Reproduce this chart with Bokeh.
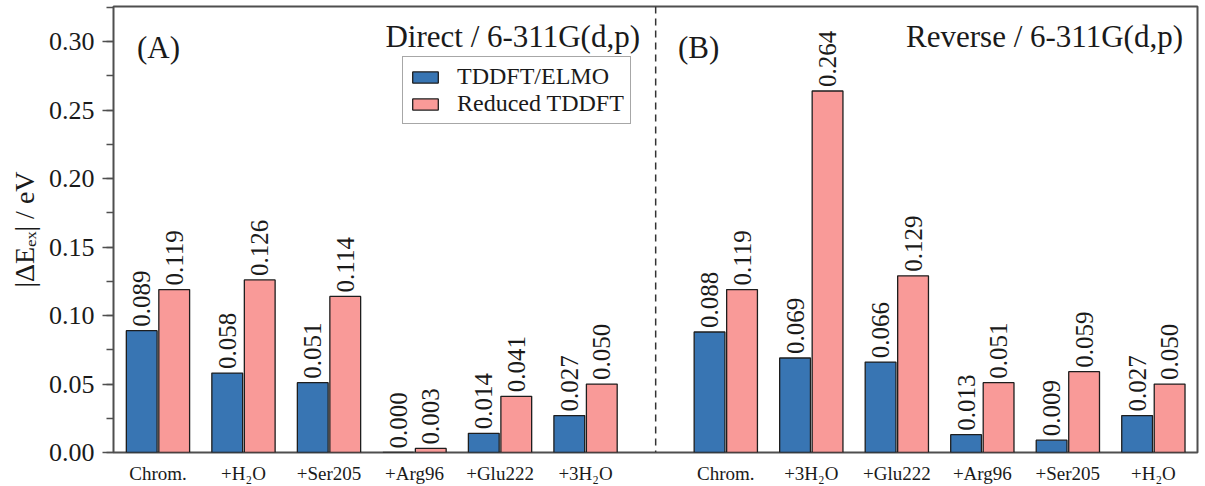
import math

from bokeh.plotting import figure
from bokeh.models import (ColumnDataSource, FixedTicker, SingleIntervalTicker, Span, Label,
                          LabelSet, Legend, LegendItem, Range1d, PrintfTickFormatter)
from bokeh.core.properties import value
from bokeh.embed import file_html
from bokeh.resources import INLINE

# Excitation-energy errors |ΔE_ex| (eV) for the two build-up orders
direct_systems = ["Chrom.", "+H₂O", "+Ser205", "+Arg96", "+Glu222", "+3H₂O"]
direct_elmo = [0.089, 0.058, 0.051, 0.000, 0.014, 0.027]
direct_reduced = [0.119, 0.126, 0.114, 0.003, 0.041, 0.050]

reverse_systems = ["Chrom.", "+3H₂O", "+Glu222", "+Arg96", "+Ser205", "+H₂O"]
reverse_elmo = [0.088, 0.069, 0.066, 0.013, 0.009, 0.027]
reverse_reduced = [0.119, 0.264, 0.129, 0.051, 0.059, 0.050]

series_names = ["TDDFT/ELMO", "Reduced TDDFT"]
panel_titles = ["Direct / 6-311G(d,p)", "Reverse / 6-311G(d,p)"]
panel_tags = ["(A)", "(B)"]
y_title = "|ΔEₑₓ| / eV"

# styling / layout
BLUE = "#3875b3"
PINK = "#f99a98"
EDGE = "#1e1e1e"
FRAME = "#4f4f4f"
INK = "#1a1a1a"
SERIF = "Liberation Serif"

reverse_start = 6.64   # x position of the first group in panel B
divider_x = 5.82       # dashed separator between the panels
half = 0.19            # offset of each bar from its group centre
bar_w = 0.36

centers = list(range(len(direct_systems))) + [reverse_start + j for j in range(len(reverse_systems))]
tick_names = direct_systems + reverse_systems
elmo = direct_elmo + reverse_elmo
reduced = direct_reduced + reverse_reduced

src_elmo = ColumnDataSource(dict(x=[c - half for c in centers], top=elmo,
                                 label=[f"{v:.3f}" for v in elmo]))
src_red = ColumnDataSource(dict(x=[c + half for c in centers], top=reduced,
                                label=[f"{v:.3f}" for v in reduced]))

p = figure(width=1205, height=486, output_backend="svg", toolbar_location=None,
           x_range=Range1d(-0.52, 12.156), y_range=Range1d(0, 0.3257),
           min_border_left=113, min_border_right=8, min_border_top=6, min_border_bottom=28)
p.xgrid.visible = False
p.ygrid.visible = False
p.outline_line_color = FRAME
p.outline_line_width = 2
p.background_fill_color = "white"
p.border_fill_color = "white"

r_elmo = p.vbar(x="x", top="top", width=bar_w, source=src_elmo,
                fill_color=BLUE, line_color=EDGE, line_width=1.3)
r_red = p.vbar(x="x", top="top", width=bar_w, source=src_red,
               fill_color=PINK, line_color=EDGE, line_width=1.3)

for src in (src_elmo, src_red):
    p.add_layout(LabelSet(x="x", y="top", text="label", source=src, angle=math.pi / 2,
                          text_align="left", text_baseline="middle", y_offset=4,
                          text_font=value(SERIF), text_font_size=value("25px"),
                          text_color=INK))

p.add_layout(Span(location=divider_x, dimension="height", line_color="#333333",
                  line_width=1.5, line_dash="7 5"))

# x axis: system names under each pair of bars
p.xaxis.ticker = FixedTicker(ticks=centers)
p.xaxis.major_label_overrides = {c: n for c, n in zip(centers, tick_names)}
p.xaxis.major_tick_line_color = None
p.xaxis.minor_tick_line_color = None
p.xaxis.axis_line_color = None
p.xaxis.major_label_standoff = 4
p.xaxis.major_label_text_font = SERIF
p.xaxis.major_label_text_font_size = "19px"
p.xaxis.major_label_text_color = INK

# y axis
p.yaxis.ticker = SingleIntervalTicker(interval=0.05, num_minor_ticks=2)
p.yaxis.formatter = PrintfTickFormatter(format="%.2f")
p.yaxis.axis_line_color = None
p.yaxis.major_tick_in = 0
p.yaxis.major_tick_out = 11
p.yaxis.minor_tick_in = 0
p.yaxis.minor_tick_out = 7
p.yaxis.major_tick_line_color = FRAME
p.yaxis.minor_tick_line_color = FRAME
p.yaxis.major_tick_line_width = 1.5
p.yaxis.minor_tick_line_width = 1.5
p.yaxis.major_label_standoff = 8
p.yaxis.major_label_text_font = SERIF
p.yaxis.major_label_text_font_size = "26px"
p.yaxis.major_label_text_color = INK
p.yaxis.axis_label = y_title
p.yaxis.axis_label_standoff = 6
p.yaxis.axis_label_text_font = SERIF
p.yaxis.axis_label_text_font_size = "28px"
p.yaxis.axis_label_text_font_style = "normal"
p.yaxis.axis_label_text_color = INK

# panel annotations
for txt, x in zip(panel_tags, [23.5, 564.5]):
    p.add_layout(Label(x=x, y=405, x_units="screen", y_units="screen", text=txt,
                       text_align="left", text_baseline="alphabetic",
                       text_font=SERIF, text_font_size="31px", text_color=INK))
for txt, x in zip(panel_titles, [526.5, 1069.5]):
    p.add_layout(Label(x=x, y=416, x_units="screen", y_units="screen", text=txt,
                       text_align="right", text_baseline="alphabetic",
                       text_font=SERIF, text_font_size="31px", text_color=INK))

legend = Legend(items=[LegendItem(label=series_names[0], renderers=[r_elmo]),
                       LegendItem(label=series_names[1], renderers=[r_red])],
                location=(289, 328), orientation="vertical")
legend.border_line_color = FRAME
legend.border_line_width = 1.5
legend.background_fill_color = "white"
legend.background_fill_alpha = 1
legend.padding = 6
legend.spacing = 0
legend.margin = 0
legend.glyph_width = 32
legend.glyph_height = 14
legend.label_standoff = 16
legend.label_text_font = SERIF
legend.label_text_font_size = "24px"
legend.label_text_color = INK
p.add_layout(legend)

open("out.html", "w").write(file_html(p, INLINE))
